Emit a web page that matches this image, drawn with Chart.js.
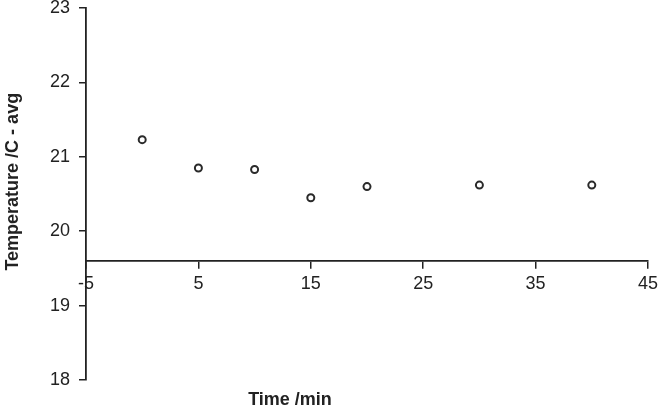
<!DOCTYPE html>
<html>
<head>
<meta charset="utf-8">
<script src="https://cdn.jsdelivr.net/npm/chart.js@4"></script>
<style>
  html, body { margin: 0; padding: 0; background: #fff; }
  #wrap { width: 660px; height: 412px; position: relative; }
</style>
</head>
<body>
<div id="wrap"><canvas id="chart"></canvas></div>
<script>
const timeMin = [0, 5, 10, 15, 20, 30, 40];
const tempAvg = [21.23, 20.85, 20.83, 20.45, 20.6, 20.62, 20.62];
const xTitle = 'Time /min';
const yTitle = 'Temperature /C - avg';

const ink = '#222';
const font = 'Liberation Sans, Arial, sans-serif';

// axis titles are drawn by hand since the x axis sits inside the plot
const axisTitles = {
    id: 'axisTitles',
    afterDraw(chart) {
        const ctx = chart.ctx;
        const area = chart.chartArea;
        ctx.save();
        ctx.fillStyle = ink;
        ctx.font = 'bold 18px ' + font;
        ctx.textAlign = 'center';
        ctx.textBaseline = 'middle';
        ctx.fillText(xTitle, area.left + (area.right - area.left) * 0.363, 400);
        ctx.translate(13, area.top + (area.bottom - area.top) * 0.467);
        ctx.rotate(-Math.PI / 2);
        ctx.fillText(yTitle, 0, 0);
        ctx.restore();
    }
};

new Chart(document.getElementById('chart'), {
    type: 'scatter',
    data: {
        datasets: [{
            data: timeMin.map((t, i) => ({ x: t, y: tempAvg[i] })),
            pointRadius: 3.5,
            pointBorderWidth: 2,
            pointBorderColor: '#2a2a2a',
            pointBackgroundColor: '#fff',
            pointHoverRadius: 3.5
        }]
    },
    options: {
        responsive: true,
        maintainAspectRatio: false,
        animation: false,
        layout: { padding: { top: 8, bottom: 32, right: 12, left: 0 } },
        plugins: { legend: { display: false }, tooltip: { enabled: false } },
        scales: {
            x: {
                type: 'linear',
                position: { y: 19.6 },
                min: -5,
                max: 45,
                ticks: { stepSize: 10, color: ink, padding: 5, font: { family: font, size: 18 } },
                grid: { drawOnChartArea: false, drawTicks: true, tickLength: 7, color: ink, lineWidth: 1.5 },
                border: { display: true, color: ink, width: 1.8 },
                afterFit(s) { s.paddingLeft = 0; s.paddingRight = 0; }
            },
            y: {
                type: 'linear',
                position: 'left',
                min: 18,
                max: 23,
                ticks: { stepSize: 1, color: ink, padding: 9, font: { family: font, size: 18 } },
                grid: { drawOnChartArea: false, drawTicks: true, tickLength: 7, color: ink, lineWidth: 1.5 },
                border: { display: true, color: ink, width: 1.8 },
                afterFit(s) { s.width = 86; s.paddingTop = 0; s.paddingBottom = 0; }
            }
        }
    },
    plugins: [axisTitles]
});
</script>
</body>
</html>
